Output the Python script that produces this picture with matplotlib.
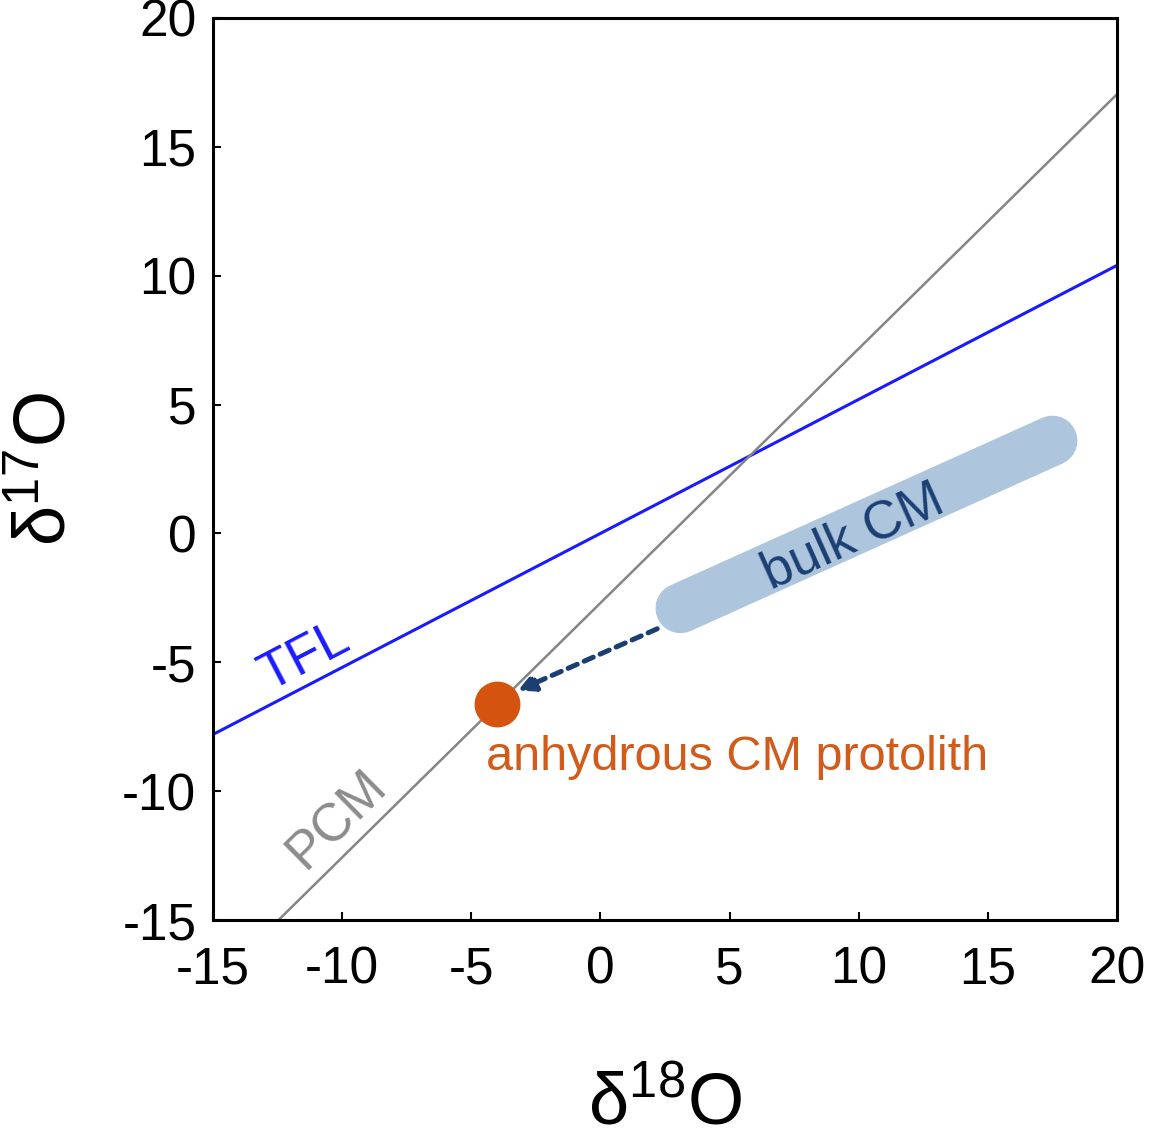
import matplotlib
matplotlib.use("Agg")
import matplotlib.pyplot as plt
import numpy as np

plt.rcParams['font.family'] = ['Liberation Sans', 'DejaVu Sans']
plt.rcParams['mathtext.default'] = 'regular'
plt.rcParams['axes.unicode_minus'] = False

# data
x_range = [-15, 20]
y_range = [-15, 20]
ticks = [-15, -10, -5, 0, 5, 10, 15, 20]

# terrestrial fractionation line: d17O = 0.52 * d18O
tfl_slope, tfl_icpt = 0.52, 0.0
# primitive chondrule mineral line: d17O = 0.987 * d18O - 2.70
pcm_slope, pcm_icpt = 0.987, -2.70

# bulk CM band ends (d18O, d17O)
bulk_x = [3.1, 17.5]
bulk_y = [-2.9, 3.6]

# arrow from bulk CM to protolith
arrow_start = (2.2, -3.7)
arrow_end = (-3.2, -6.1)

# anhydrous CM protolith
proto_x = [-4.0]
proto_y = [-6.6]

fig = plt.figure(figsize=(11.65, 11.36), dpi=100)
ax = fig.add_axes([0.1828, 0.1901, 0.776, 0.7941])

xs = np.array(x_range, dtype=float)
ax.plot(xs, tfl_slope * xs + tfl_icpt, color='#1a1aff', lw=2.2, zorder=2)
ax.plot(xs, pcm_slope * xs + pcm_icpt, color='#858585', lw=1.8, zorder=2)

# thick rounded band
ax.plot(bulk_x, bulk_y, color='#adc6dd', lw=36, solid_capstyle='round', zorder=1)

ax.annotate('', xy=arrow_end, xytext=arrow_start,
            arrowprops=dict(arrowstyle='-|>,head_length=1.0,head_width=0.5',
                            color='#1b3f73', lw=3.6, linestyle=(0, (2.0, 1.5)),
                            shrinkA=0, shrinkB=0), zorder=3)

ax.plot(proto_x, proto_y, 'o', color='#d4540f', markersize=32, zorder=4)

# labels along lines
ax.text(-11.45, -4.8, 'TFL', color='#1a1aff', fontsize=38, rotation=27.5,
        ha='center', va='center', rotation_mode='anchor')
ax.text(-10.2, -11.1, 'PCM', color='#8c8c8c', fontsize=38, rotation=44.6,
        ha='center', va='center', rotation_mode='anchor')
ax.text(9.8, -0.15, 'bulk CM', color='#1b3f73', fontsize=38, rotation=24.2,
        ha='center', va='center', rotation_mode='anchor')
ax.text(5.3, -8.7, 'anhydrous CM protolith', color='#d35b1a', fontsize=35,
        ha='center', va='center')

ax.set_xlim(x_range)
ax.set_ylim(y_range)
ax.set_xticks(ticks)
ax.set_yticks(ticks)
ax.tick_params(axis='both', direction='in', length=6, width=1.5, labelsize=37)
ax.tick_params(axis='x', pad=18)
ax.tick_params(axis='y', pad=12)
for sp in ax.spines.values():
    sp.set_linewidth(2.2)

ax.set_xlabel(r'δ$^{18}$O', fontsize=52, labelpad=55)
ax.set_ylabel(r'δ$^{17}$O', fontsize=52, labelpad=30)

fig.savefig('out.png', dpi=100)
